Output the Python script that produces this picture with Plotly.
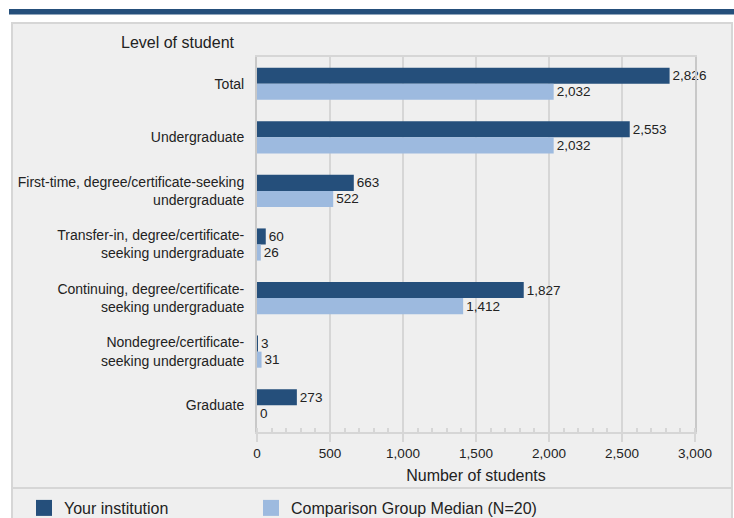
import plotly.graph_objects as go

categorias = [
    "Total",
    "Undergraduate",
    "First-time, degree/certificate-seeking<br>undergraduate",
    "Transfer-in, degree/certificate-<br>seeking undergraduate",
    "Continuing, degree/certificate-<br>seeking undergraduate",
    "Nondegree/certificate-<br>seeking undergraduate",
    "Graduate",
]
tu_institucion = [2826, 2553, 663, 60, 1827, 3, 273]
mediana_grupo = [2032, 2032, 522, 26, 1412, 31, 0]

OSCURO = "#254f7b"
CLARO = "#9dbadf"
FONDO = "#efefef"
BORDE = "#d6d6d6"
TEXTO = "#222222"

W, H = 734, 518
IZQ, DER, ARR, ABA = 257, 695, 57, 432


def px_x(p):
    return (p - IZQ) / (DER - IZQ)


def px_y(p):
    return (ABA - p) / (ABA - ARR)


fig = go.Figure()

series = [
    (tu_institucion, "Your institution", OSCURO, "legend"),
    (mediana_grupo, "Comparison Group Median (N=20)", CLARO, "legend2"),
]
for valores, nombre, color, leyenda in series:
    fig.add_bar(
        y=categorias,
        x=valores,
        orientation="h",
        name=nombre,
        marker_color=color,
        marker_line_width=0,
        texttemplate="%{x:,}",
        textposition="outside",
        constraintext="none",
        cliponaxis=False,
        textfont={"color": TEXTO, "size": 13.5},
        showlegend=False,
    )
    fig.add_scatter(
        x=[None],
        y=[None],
        mode="markers",
        name=nombre,
        legend=leyenda,
        marker={"symbol": "square", "size": 17, "color": color},
    )

formas = [
    # franja superior
    {"type": "rect", "xref": "paper", "yref": "paper",
     "x0": px_x(9), "x1": px_x(740), "y0": px_y(9), "y1": px_y(14.5),
     "fillcolor": OSCURO, "line": {"width": 0}, "layer": "below"},
    # panel
    {"type": "rect", "xref": "paper", "yref": "paper",
     "x0": px_x(12), "x1": px_x(732), "y0": px_y(23), "y1": px_y(530),
     "fillcolor": FONDO, "line": {"color": BORDE, "width": 2}, "layer": "below"},
    # separador de la leyenda
    {"type": "line", "xref": "paper", "yref": "paper",
     "x0": px_x(12), "x1": px_x(732), "y0": px_y(488), "y1": px_y(488),
     "line": {"color": BORDE, "width": 2}, "layer": "below"},
]

leyenda_base = {
    "orientation": "h",
    "xanchor": "left",
    "y": px_y(508),
    "yanchor": "middle",
    "bgcolor": "rgba(0,0,0,0)",
    "font": {"size": 16},
    "itemsizing": "trace",
}

fig.update_layout(
    width=W,
    height=H,
    paper_bgcolor="#ffffff",
    plot_bgcolor="rgba(0,0,0,0)",
    font={"family": "Liberation Sans, Arial, sans-serif", "color": TEXTO, "size": 14},
    margin={"l": IZQ, "r": W - DER, "t": ARR, "b": H - ABA, "pad": 0, "autoexpand": False},
    barmode="group",
    bargap=0.4,
    bargroupgap=0,
    shapes=formas,
    xaxis={
        "range": [0, 3000],
        "dtick": 500,
        "tickformat": ",",
        "showgrid": True,
        "gridcolor": BORDE,
        "gridwidth": 2,
        "zeroline": False,
        "showline": True,
        "linecolor": BORDE,
        "linewidth": 2,
        "mirror": True,
        "ticks": "outside",
        "ticklen": 8,
        "tickwidth": 2,
        "tickcolor": BORDE,
        "minor": {"dtick": 100, "ticks": "inside", "ticklen": 4, "tickcolor": BORDE, "tickwidth": 2, "showgrid": False},
        "tickfont": {"size": 13.5},
        "title": {"text": "Number of students", "font": {"size": 16}, "standoff": 10},
        "fixedrange": True,
    },
    yaxis={
        "autorange": "reversed",
        "showgrid": False,
        "showline": True,
        "linecolor": "#c8c8c8",
        "linewidth": 2,
        "mirror": True,
        "ticks": "",
        "ticklabelstandoff": 8,
        "tickfont": {"size": 14},
        "fixedrange": True,
    },
    legend={**leyenda_base, "x": px_x(24)},
    legend2={**leyenda_base, "x": px_x(251)},
    annotations=[
        {"text": "Level of student", "xref": "paper", "yref": "paper",
         "x": px_x(119), "y": px_y(43), "xanchor": "left", "yanchor": "middle",
         "showarrow": False, "font": {"size": 16}},
    ],
)

fig.write_html(
    "out.html",
    config={"displayModeBar": False},
    post_script="document.body.style.margin='0';",
)
